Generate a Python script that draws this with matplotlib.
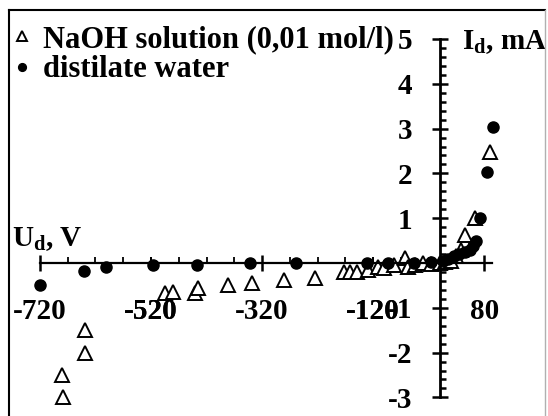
import matplotlib
matplotlib.use("Agg")
import matplotlib.pyplot as plt
from matplotlib.ticker import FixedLocator, FuncFormatter
from matplotlib.lines import Line2D

plt.rcParams['font.family'] = ['Liberation Serif', 'DejaVu Serif']
plt.rcParams['font.weight'] = 'bold'
plt.rcParams['mathtext.fontset'] = 'custom'
plt.rcParams['mathtext.rm'] = 'Liberation Serif:bold'
plt.rcParams['mathtext.bf'] = 'Liberation Serif:bold'
plt.rcParams['mathtext.it'] = 'Liberation Serif:bold'

# NaOH solution (0,01 mol/l) - open triangles
naoh_u = [-678, -680, -639, -639, -495, -480, -440, -436, -381, -339, -280,
          -224, -173, -162, -149, -130, -112, -100, -82, -62, -58, -45, -30,
          -15, 0, 10, 20, 30, 38, 46, 64, 90]
naoh_i = [-3.0, -2.5, -2.0, -1.5, -0.67, -0.64, -0.67, -0.55, -0.49, -0.45,
          -0.38, -0.33, -0.2, -0.2, -0.2, -0.15, -0.1, -0.12, -0.05, 0.12,
          -0.1, -0.05, 0.0, -0.02, 0.0, 0.02, 0.05, 0.15, 0.3, 0.62, 1.0, 2.48]

# distilate water - filled circles
water_u = [-720, -640, -601, -516, -437, -341, -258, -131, -93, -47, -15, 5,
           15, 25, 35, 45, 55, 60, 66, 73, 85, 96]
water_i = [-0.49, -0.17, -0.09, -0.04, -0.05, 0.0, 0.0, 0.0, 0.01, 0.0, 0.02,
           0.05, 0.1, 0.15, 0.2, 0.25, 0.3, 0.38, 0.5, 1.0, 2.03, 3.03]

x_labels = [-720, -520, -320, -120, 80]
x_major = [-720, -320, 80]
y_labels = [-3, -2, -1, 1, 2, 3, 4, 5]

fig = plt.figure(figsize=(5.48, 4.16), dpi=100)
ax = fig.add_axes([0, 0, 1, 1])
ax.set_xlim(-792, 195)
ax.set_ylim(-3.415, 5.87)
ax.patch.set_visible(False)

ax.plot(naoh_u, naoh_i, linestyle='none', marker='^', ms=9.5, mfc='white',
        mec='black', mew=1.4, label='NaOH solution (0,01 mol/l)')
ax.plot(water_u, water_i, linestyle='none', marker='o', ms=8, mfc='black',
        mec='black', label='distilate water')

# axes crossing at zero
for s in ['top', 'right']:
    ax.spines[s].set_visible(False)
ax.spines['left'].set_position(('data', 0))
ax.spines['bottom'].set_position(('data', 0))
ax.spines['left'].set_bounds(-3, 5)
ax.spines['bottom'].set_bounds(-720, 95)
ax.spines['left'].set_linewidth(2)
ax.spines['bottom'].set_linewidth(1.6)

# x ticks
ax.xaxis.set_major_locator(FixedLocator(x_major))
ax.xaxis.set_minor_locator(FixedLocator(list(range(-720, 81, 50)) + [-520, -120]))
ax.xaxis.set_major_formatter(FuncFormatter(lambda v, p: '%d' % v))
ax.xaxis.set_minor_formatter(FuncFormatter(
    lambda v, p: '%d' % v if int(round(v)) in (-520, -120) else ''))
ax.tick_params(axis='x', which='major', direction='inout', length=11,
               width=1.8, pad=20, labelsize=21)
ax.tick_params(axis='x', which='minor', direction='in', length=4,
               width=1.3, pad=25, labelsize=21)

# y ticks
ax.yaxis.set_major_locator(FixedLocator(y_labels))
ax.yaxis.set_minor_locator(FixedLocator([k / 5 for k in range(-15, 26)]))
ax.yaxis.set_major_formatter(FuncFormatter(lambda v, p: '%d' % v))
ax.tick_params(axis='y', which='major', direction='inout', length=12,
               width=1.8, pad=14, labelsize=21)
ax.tick_params(axis='y', which='minor', direction='in', length=4,
               width=1.8)

# axis titles
ax.text(-770, 0.38, r'U$_{\mathrm{d}}$, V', fontsize=21, fontweight='bold',
        ha='left', va='baseline')
ax.text(40, 4.78, r'I$_{\mathrm{d}}$, mA', fontsize=21, fontweight='bold',
        ha='left', va='baseline')

leg = ax.legend(loc='upper left', bbox_to_anchor=(0.028, 0.94), frameon=False,
                fontsize=22, handlelength=0.45, handletextpad=0.45,
                labelspacing=0.05, borderaxespad=0, borderpad=0,
                markerscale=0.7)

# frame around the picture
fig.add_artist(Line2D([9 / 548, 9 / 548], [0, 1 - 10 / 416], color='black', lw=1.5))
fig.add_artist(Line2D([9 / 548, 545 / 548], [1 - 10 / 416, 1 - 10 / 416],
                      color='black', lw=1.5))
fig.add_artist(Line2D([545 / 548, 545 / 548], [0, 1 - 10 / 416], color='#b0b0b0', lw=1))

fig.savefig('out.png', dpi=100)
